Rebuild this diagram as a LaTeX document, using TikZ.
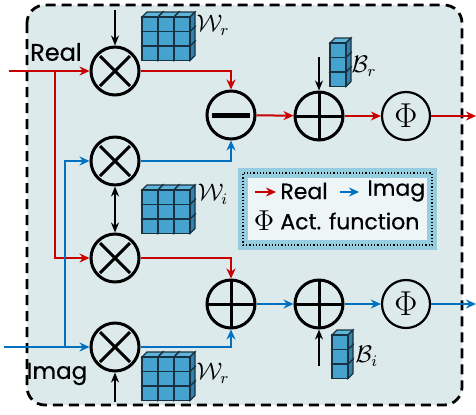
\documentclass[tikz,border=0pt]{standalone}
\usepackage{amsmath}
\usepackage{amssymb}
\usepackage{fontspec}
\setmainfont{Poppins}[FakeBold=0.5]
\usetikzlibrary{arrows.meta}
\definecolor{bgfill}{RGB}{221,234,236}
\definecolor{legfill}{RGB}{238,245,247}
\definecolor{glow}{RGB}{150,205,225}
\definecolor{realc}{RGB}{200,0,0}
\definecolor{imagc}{RGB}{0,112,192}
\definecolor{cubef}{RGB}{70,163,206}
\definecolor{cubet}{RGB}{95,180,218}
\definecolor{cubes}{RGB}{52,130,172}
\definecolor{cubeedge}{RGB}{25,50,65}
\newcommand{\cubegrid}[4]{%
\foreach \row in {#4,...,1}{\foreach \col in {1,...,#3}{
\filldraw[cubetop] ({#1+(\col-1)*16},{#2+(\row-1)*14.5}) -- ++(5,-5) -- ++(16,0) -- ++(-5,5) -- cycle;
\filldraw[cubeside] ({#1+\col*16},{#2+(\row-1)*14.5}) -- ++(5,-5) -- ++(0,14.5) -- ++(-5,5) -- cycle;
\filldraw[cubefront] ({#1+(\col-1)*16},{#2+(\row-1)*14.5}) rectangle ++(16,14.5);
}}}
\tikzset{
cubetop/.style={fill=cubet,draw=cubeedge,line width=.55pt},
cubeside/.style={fill=cubes,draw=cubeedge,line width=.55pt},
cubefront/.style={fill=cubef,draw=cubeedge,line width=.55pt},
}
\begin{document}
\begin{tikzpicture}[x=0.5pt,y=-0.5pt,
font=\fontsize{12}{14}\selectfont,
mul/.style={circle,draw,line width=1.5pt,minimum size=24pt,inner sep=0pt,
 path picture={\draw[line width=1.5pt]
 ([shift={(-7.5pt,-7.5pt)}]path picture bounding box.center) -- ([shift={(7.5pt,7.5pt)}]path picture bounding box.center)
 ([shift={(-7.5pt,7.5pt)}]path picture bounding box.center) -- ([shift={(7.5pt,-7.5pt)}]path picture bounding box.center);}},
sumc/.style={circle,draw,line width=1.5pt,minimum size=24pt,inner sep=0pt,
 path picture={\draw[line width=1.5pt]
 ([shift={(-13pt,0pt)}]path picture bounding box.center) -- ([shift={(13pt,0pt)}]path picture bounding box.center)
 ([shift={(0pt,-13pt)}]path picture bounding box.center) -- ([shift={(0pt,13pt)}]path picture bounding box.center);}},
subc/.style={circle,draw,line width=1.5pt,minimum size=24pt,inner sep=0pt,
 path picture={\draw[line width=2.5pt]
 ([shift={(-9.5pt,0pt)}]path picture bounding box.center) -- ([shift={(9.5pt,0pt)}]path picture bounding box.center);}},
actc/.style={circle,draw,line width=1.1pt,minimum size=24pt,inner sep=0pt},
real/.style={draw=realc,line width=1pt,-{Stealth[length=5pt,width=4.5pt]}},
imag/.style={draw=imagc,line width=1pt,-{Stealth[length=5pt,width=4.5pt]}},
ctl/.style={line width=.8pt,-{Stealth[length=5pt,width=4pt]}},
legtext/.style={anchor=west,inner sep=0pt,font=\fontsize{11}{13}\selectfont},
border/.style={draw,fill=bgfill,line width=1.4pt,dash pattern=on 5pt off 3pt,rounded corners=9pt}]
\useasboundingbox (0,0) rectangle (476,414);
\draw[border] (27,5) rectangle (462,405);
\cubegrid{142}{17}{3}{3}
\cubegrid{142}{190}{3}{3}
\cubegrid{142}{357}{3}{3}
\cubegrid{330}{43}{1}{3}
\cubegrid{332}{335}{1}{3}
\node (WR) at (213,25) {$\mathcal{W}_r$};
\node (WI) at (213,194) {$\mathcal{W}_i$};
\node (WR2) at (213,373) {$\mathcal{W}_r$};
\node (BR) at (364,66) {$\mathcal{B}_r$};
\node (BI) at (367,356) {$\mathcal{B}_i$};
\node (M1) [mul] at (115,71) {};
\node (M2) [mul] at (115,161) {};
\node (M3) [mul] at (115,258) {};
\node (M4) [mul] at (115,347) {};
\node (S1) [subc] at (231,115) {};
\node (A1) [sumc] at (319,116) {};
\node (P1) [actc] at (406,116) {\LARGE$\Phi$};
\node (S2) [sumc] at (231,304) {};
\node (A2) [sumc] at (319,304) {};
\node (P2) [actc] at (406,304) {\LARGE$\Phi$};
\node (Re) at (56,52) {Real};
\node (Im) [font=\fontsize{11.5}{13}\selectfont] at (57,374) {Imag};
\coordinate (InR) at (9,71);
\coordinate (BrR) at (55,71);
\coordinate (InI) at (4,347);
\coordinate (BrI) at (65,347);
\coordinate (OutR) at (476,116);
\coordinate (OutI) at (476,304);
\coordinate (T1) at (115,10);
\coordinate (T4) at (115,402);
\coordinate (TB1) at (319,57);
\coordinate (TB2) at (319,366);
\draw[real] (InR) -- (M1);
\draw[real] (BrR) |- (M3);
\draw[imag] (InI) -- (M4);
\draw[imag] (BrI) |- (M2);
\draw[real] (M1) -| (S1);
\draw[imag] (M2) -| (S1);
\draw[real] (M3) -| (S2);
\draw[imag] (M4) -| (S2);
\draw[real] (S1) -- (A1);
\draw[real] (A1) -- (P1);
\draw[real] (P1) -- (OutR);
\draw[imag] (S2) -- (A2);
\draw[imag] (A2) -- (P2);
\draw[imag] (P2) -- (OutI);
\draw[ctl] (T1) -- (M1);
\draw[ctl,{Stealth[length=5pt,width=4pt]}-{Stealth[length=5pt,width=4pt]}] (M2) -- (M3);
\draw[ctl] (T4) -- (M4);
\draw[ctl] (TB1) -- (A1);
\draw[ctl] (TB2) -- (A2);
\draw[draw=glow,line width=5pt,fill=legfill] (243,173) rectangle (432,245);
\node (Leg) [draw,densely dotted,line width=.6pt,minimum width=94.5pt,minimum height=36pt,inner sep=0pt] at (337.5,209) {};
\coordinate (L1) at (255,192);
\coordinate (L2) at (276,192);
\coordinate (L3) at (340,192);
\coordinate (L4) at (359,192);
\draw[real] (L1) -- (L2);
\draw[imag] (L3) -- (L4);
\node (LRe) [legtext] at (280,191) {Real};
\node (LIm) [legtext] at (367,191) {Imag};
\node (LPhi) [font=\Large] at (264,221) {$\Phi$};
\node (LAct) [legtext] at (280,221) {Act. function};
\end{tikzpicture}
\end{document}
